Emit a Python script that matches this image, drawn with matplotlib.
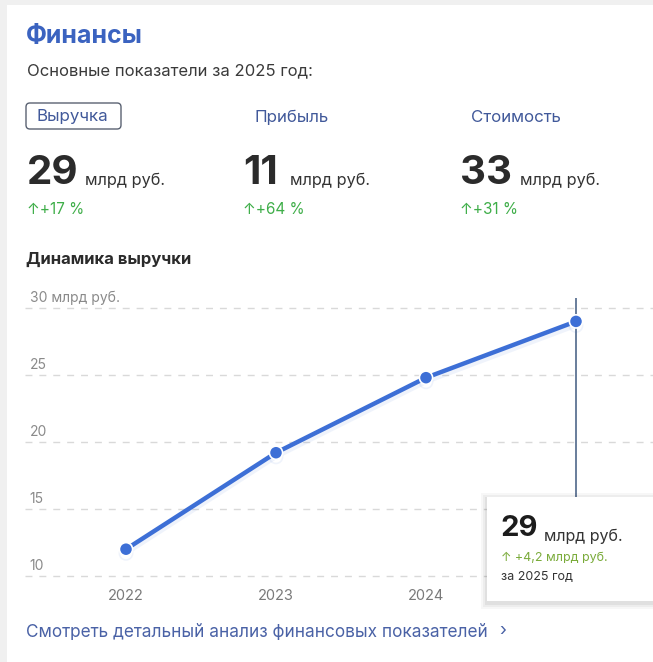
import matplotlib
matplotlib.use('Agg')
import matplotlib.pyplot as plt
import matplotlib.patheffects as pe
from matplotlib.patches import FancyBboxPatch, Rectangle

plt.rcParams['font.family'] = ['Inter', 'DejaVu Sans']

# data
years = [2022, 2023, 2024, 2025]
revenue = [12.0, 19.2, 24.8, 29.0]
y_ticks = [10, 15, 20, 25, 30]
y_labels = ['10', '15', '20', '25', '30 млрд руб.']

kpi_names = ['Выручка', 'Прибыль', 'Стоимость']
kpi_values = ['29', '11', '33']
kpi_growth = ['↑+17 %', '↑+64 %', '↑+31 %']

W, H = 653, 662
fig = plt.figure(figsize=(W / 100, H / 100), dpi=100)
fig.patch.set_facecolor('#f0f0f0')

def fx(x):
    return x / W

def fy(y):
    return 1 - y / H

# white card
fig.add_artist(Rectangle((fx(7), 0), 1, fy(5), transform=fig.transFigure,
                         facecolor='white', edgecolor='none', zorder=0))

BLUE = '#3d6fd6'
TITLE_BLUE = '#3b63c0'
TAB_BLUE = '#41599a'
DARK = '#2b2b2b'
GREEN = '#3fae49'

fig.text(fx(26), fy(36), 'Финансы', fontsize=18, fontweight='bold',
         color=TITLE_BLUE, va='center', ha='left')
fig.text(fx(27), fy(71), 'Основные показатели за 2025 год:', fontsize=12,
         color='#3a3a3a', va='center', ha='left')

# tabs
fig.add_artist(FancyBboxPatch((fx(26), fy(129)), fx(95), 26 / H,
                              boxstyle='round,pad=0,rounding_size=0.006',
                              transform=fig.transFigure, facecolor='white',
                              edgecolor='#5a6272', lw=1.0))
tab_x = [37, 254, 471]
num_x = [27, 243, 460]
unit_x = [85, 290, 520]
for i in range(3):
    fig.text(fx(tab_x[i]), fy(117), kpi_names[i], fontsize=12.2, color=TAB_BLUE,
             va='center', ha='left')
    fig.text(fx(num_x[i]), fy(174), kpi_values[i], fontsize=29, fontweight='bold',
             color=DARK, va='center', ha='left')
    fig.text(fx(unit_x[i]), fy(180), 'млрд руб.', fontsize=11.7, color='#333333',
             va='center', ha='left')
    fig.text(fx(num_x[i]), fy(209), kpi_growth[i], fontsize=11, color=GREEN,
             va='center', ha='left')

fig.text(fx(26), fy(259), 'Динамика выручки', fontsize=12, fontweight='bold',
         color=DARK, va='center', ha='left')

# chart axes: 13.4 px per unit, 10 at y=576; 150 px per year, 2022 at x=126
px_per_unit = 13.4
ylo, yhi = 9.0, 31.0
top_px = 576 - (yhi - 10) * px_per_unit
bot_px = 576 + (10 - ylo) * px_per_unit
xlo = 2022 + (25 - 126) / 150
xhi = 2022 + (W - 126) / 150
ax = fig.add_axes([fx(25), fy(bot_px), 1 - fx(25), (bot_px - top_px) / H])
ax.set_xlim(xlo, xhi)
ax.set_ylim(ylo, yhi)
ax.axis('off')

for t, lab in zip(y_ticks, y_labels):
    ax.axhline(t, color='#d9d9d9', lw=1.0, ls=(0, (5, 5)), zorder=1)
    ax.annotate(lab, (xlo, t), xytext=(3.5, 7), textcoords='offset points',
                fontsize=10, color='#8a8a8a', va='center', ha='left')

for yr in years[:-1]:
    ax.annotate(str(yr), (yr, 10), xytext=(0, -14.5), textcoords='offset points',
                fontsize=10.5, color='#7a7a7a', va='center', ha='center')

# hover line
ax.vlines(years[-1], 10 + (576 - 497) / px_per_unit, 10 + (576 - 298) / px_per_unit,
          color='#5d7393', lw=1.3, zorder=2)

ax.plot(years, revenue, color=BLUE, lw=3.2, marker='o', ms=9.5,
        mfc=BLUE, mec='white', mew=1.2, zorder=3, solid_capstyle='round',
        path_effects=[pe.SimpleLineShadow(offset=(0, -3), alpha=0.08, shadow_color='#3d6fd6'),
                      pe.Normal()])

# tooltip
for k, a in [(6, 0.03), (4, 0.04), (2, 0.05)]:
    fig.add_artist(Rectangle((fx(487 - k), fy(601 + k + 2)), 1, (104 + 2 * k) / H,
                             transform=fig.transFigure, facecolor='black',
                             edgecolor='none', alpha=a, zorder=5))
fig.add_artist(Rectangle((fx(487), fy(601)), 1, 104 / H, transform=fig.transFigure,
                         facecolor='white', edgecolor='none', zorder=6))
fig.text(fx(500), fy(529), '29', fontsize=21, fontweight='bold', color='#1c1c1c',
         va='center', ha='left', zorder=7)
fig.text(fx(544), fy(536), 'млрд руб.', fontsize=11.5, color='#333333',
         va='center', ha='left', zorder=7)
fig.text(fx(501), fy(558), '↑ +4,2 млрд руб.', fontsize=9, color='#7aab3a',
         va='center', ha='left', zorder=7)
fig.text(fx(501), fy(577), 'за 2025 год', fontsize=9, color='#333333',
         va='center', ha='left', zorder=7)

fig.text(fx(26), fy(633), 'Смотреть детальный анализ финансовых показателей', fontsize=12.4,
         color='#4a62a6', va='center', ha='left')
fig.text(fx(499), fy(632), '›', fontsize=13, color='#4a62a6', va='center', ha='left')

fig.savefig('out.png', dpi=100)
